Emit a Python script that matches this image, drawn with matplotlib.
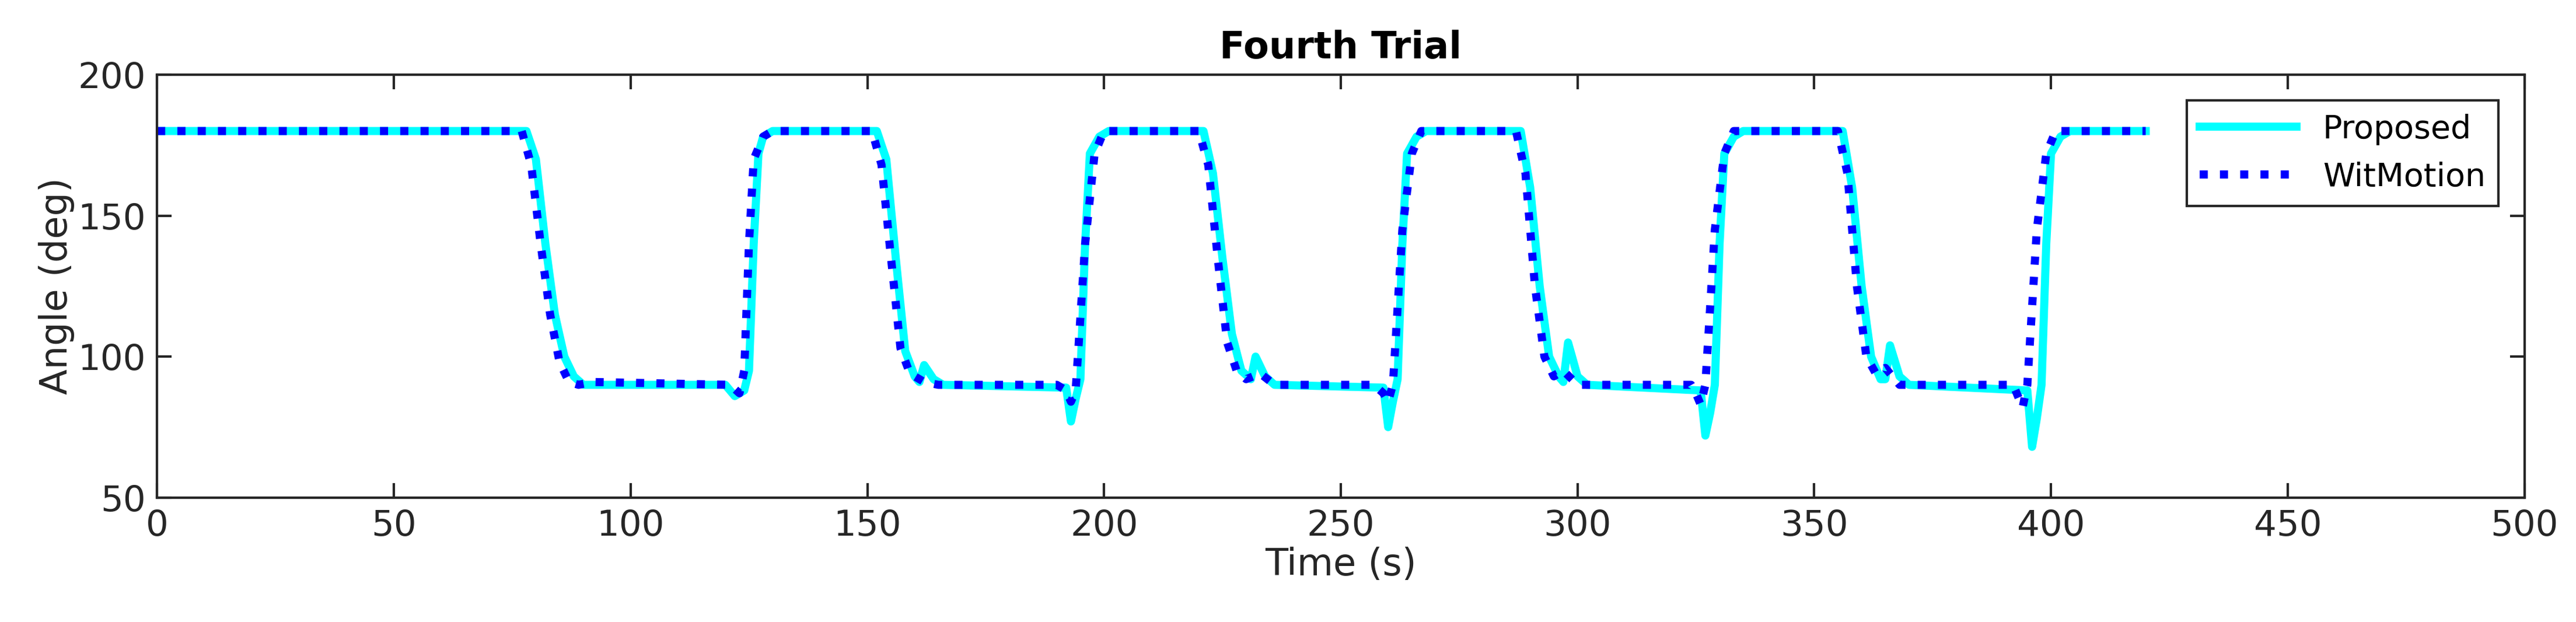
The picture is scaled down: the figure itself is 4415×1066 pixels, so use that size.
import matplotlib.pyplot as plt

# Proposed: (time s, angle deg)
proposed = [(0, 180), (78, 180), (80, 170), (82, 140), (84, 115), (86, 100), (88, 93), (90, 90),
            (120, 90), (122, 86), (124, 88), (125, 95), (126, 140), (127, 172), (128, 178), (130, 180),
            (152, 180), (154, 170), (156, 135), (158, 102), (160, 93), (161, 91), (162, 97), (164, 92), (166, 90),
            (192, 89), (193, 77), (194, 85), (195, 92), (196, 140), (197, 172), (199, 178), (201, 180),
            (221, 180), (223, 165), (225, 135), (227, 108), (229, 95), (231, 92), (232, 100), (234, 93), (236, 90),
            (259, 89), (260, 75), (261, 84), (262, 92), (263, 140), (264, 172), (266, 178), (268, 180),
            (288, 180), (290, 160), (292, 125), (294, 100), (296, 93), (297, 91), (298, 105), (300, 93), (302, 90),
            (326, 88), (327, 72), (328, 80), (329, 90), (330, 140), (331, 172), (333, 178), (335, 180),
            (356, 180), (358, 160), (360, 125), (362, 100), (364, 92), (365, 92), (366, 104), (368, 93), (370, 90),
            (395, 88), (396, 68), (397, 78), (398, 90), (399, 140), (400, 172), (402, 178), (404, 180), (420, 180)]

# WitMotion
witmotion = [(0, 180), (77, 180), (79, 168), (81, 140), (83, 115), (85, 98), (87, 91), (89, 90),
             (92, 91), (121, 90), (123, 87), (124, 95), (125, 140), (126, 170), (128, 178), (130, 180),
             (151, 180), (153, 168), (155, 135), (157, 103), (159, 94), (162, 91), (165, 90),
             (190, 90), (192, 88), (193, 84), (194, 88), (196, 140), (198, 172), (200, 180),
             (220, 180), (222, 168), (224, 135), (226, 105), (228, 95), (230, 92), (233, 94), (236, 90),
             (257, 90), (259, 87), (260, 84), (261, 90), (263, 145), (265, 172), (267, 180),
             (287, 180), (289, 165), (291, 125), (293, 100), (295, 93), (297, 95), (300, 90),
             (324, 90), (325, 87), (326, 83), (327, 90), (329, 145), (331, 172), (333, 180),
             (355, 180), (357, 165), (359, 125), (361, 100), (363, 94), (365, 96), (368, 90),
             (392, 90), (393, 86), (394, 82), (395, 90), (397, 145), (399, 172), (401, 180), (420, 180)]

t_prop, a_prop = zip(*proposed)
t_wit, a_wit = zip(*witmotion)

fig = plt.figure(figsize=(44.15, 10.66), dpi=100)
ax = fig.add_axes([0.061, 0.20, 0.919, 0.68])
ax.plot(t_prop, a_prop, color='cyan', linewidth=10, label='Proposed')
ax.plot(t_wit, a_wit, color='blue', linewidth=10, linestyle=(0, (1, 1.5)), label='WitMotion')
ax.set_xlim(0, 500)
ax.set_ylim(50, 200)
ax.set_xticks(range(0, 501, 50))
ax.set_yticks([50, 100, 150, 200])
ax.tick_params(labelsize=44, length=18, width=3, direction='in', top=True, right=True,
               colors='#262626', pad=14)
for s in ax.spines.values():
    s.set_linewidth(3)
    s.set_color('#262626')
ax.set_xlabel('Time (s)', fontsize=46, color='#262626')
ax.set_ylabel('Angle (deg)', fontsize=46, color='#262626')
ax.set_title('Fourth Trial', fontsize=46, fontweight='bold', pad=20)
leg = ax.legend(loc='upper right', fontsize=40, fancybox=False, edgecolor='#262626',
                framealpha=1, handlelength=3, borderaxespad=0.8)
leg.get_frame().set_linewidth(3)
fig.savefig('out.png', dpi=100)
